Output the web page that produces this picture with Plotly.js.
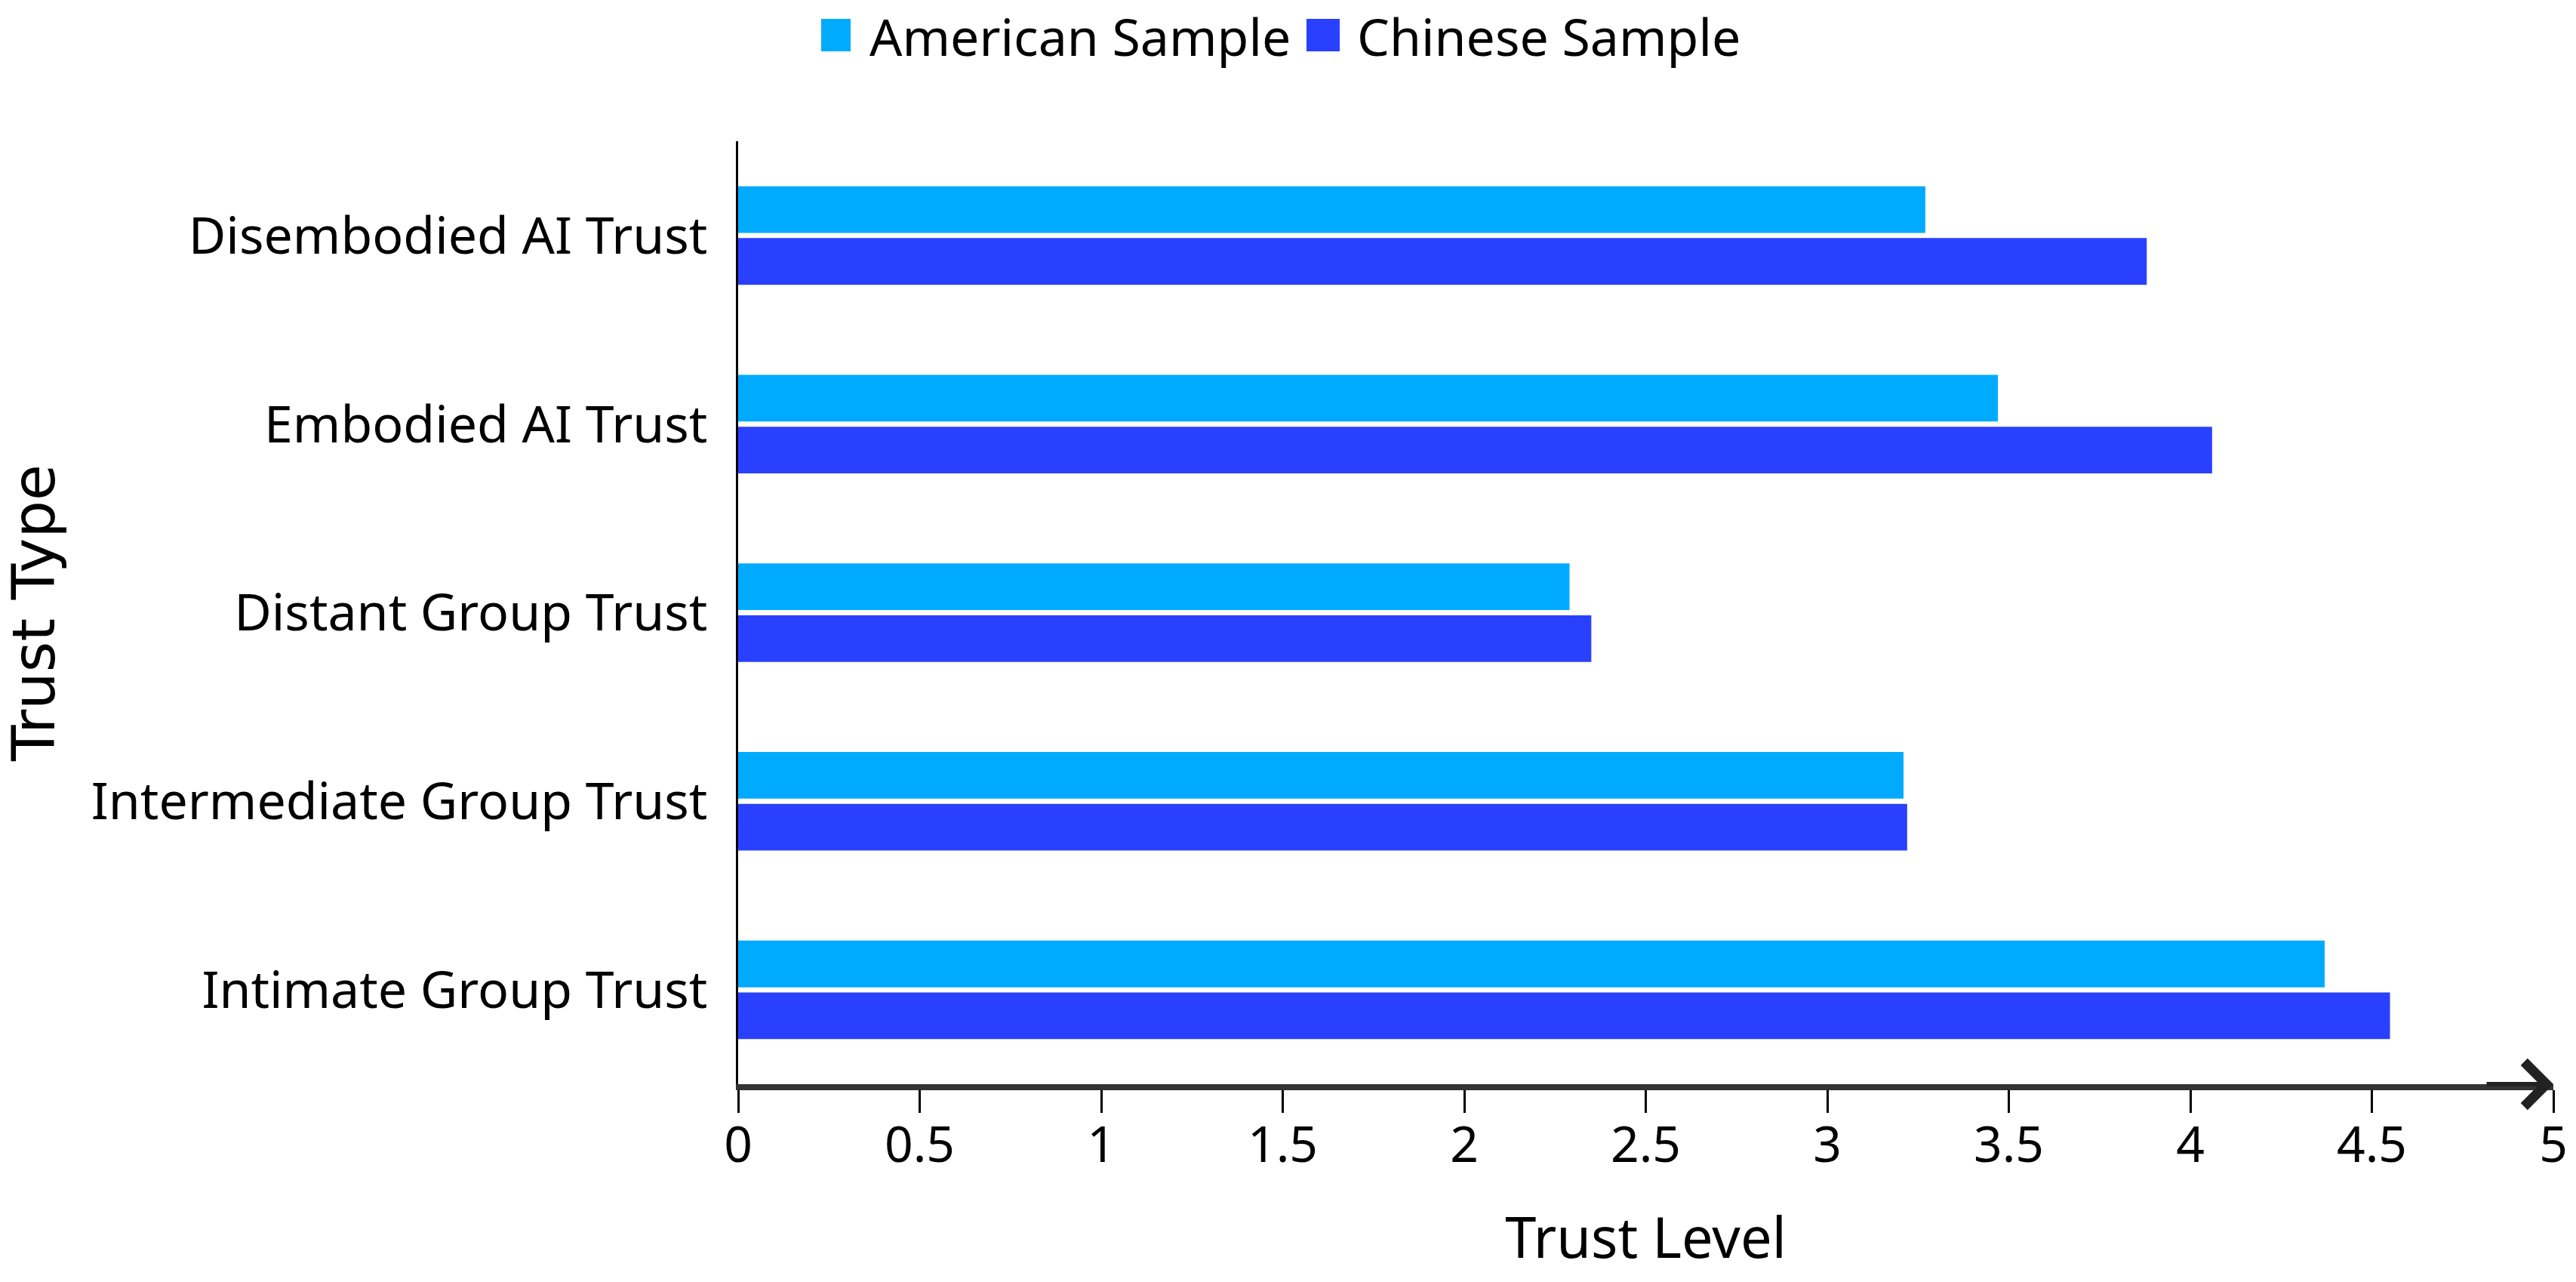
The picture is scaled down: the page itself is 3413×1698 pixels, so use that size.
<!DOCTYPE html>
<html>
<head>
<meta charset="utf-8">
<script src="https://cdn.plot.ly/plotly-3.0.1.min.js"></script>
<style>
  html, body { margin: 0; padding: 0; background: #fff; }
  #chart { width: 3413px; height: 1698px; }
</style>
</head>
<body>
<div id="chart"></div>
<script>
// categories listed bottom to top
var trustTypes = ['Intimate Group Trust', 'Intermediate Group Trust', 'Distant Group Trust', 'Embodied AI Trust', 'Disembodied AI Trust'];
var seriesNames = ['American Sample', 'Chinese Sample'];
var americanSample = [4.37, 3.21, 2.29, 3.47, 3.27];
var chineseSample = [4.55, 3.22, 2.35, 4.06, 3.88];
var xTicks = [0, 0.5, 1, 1.5, 2, 2.5, 3, 3.5, 4, 4.5, 5];

var colors = ['#00aaff', '#2a40ff'];
var labelFont = '"Noto Sans", "Open Sans", sans-serif';

// plot box in pixels, used for the hand-made legend
var W = 3413, H = 1698;
var M = {l: 978, r: 30, t: 187, b: 262};
function px(x) { return (x - M.l) / (W - M.l - M.r); }
function py(y) { return (H - M.b - y) / (H - M.t - M.b); }

function makeBar(name, values, color) {
  return {
    name: name,
    type: 'bar',
    orientation: 'h',
    x: values,
    y: trustTypes,
    showlegend: false,
    marker: {color: color, line: {width: 0}},
    hoverinfo: 'x+name'
  };
}

// chinese first so it sits below the american bar in each group
var data = [
  makeBar(seriesNames[1], chineseSample, colors[1]),
  makeBar(seriesNames[0], americanSample, colors[0])
];

// legend: big square swatches like the original
var legendItems = [
  {sx0: 1088, sx1: 1127, tx: 1150},
  {sx0: 1731, sx1: 1775, tx: 1796}
];
var shapes = legendItems.map(function (it, i) {
  return {
    type: 'rect', xref: 'paper', yref: 'paper',
    x0: px(it.sx0), x1: px(it.sx1), y0: py(68), y1: py(25),
    fillcolor: colors[i], line: {width: 0}
  };
});
var annotations = legendItems.map(function (it, i) {
  return {
    xref: 'paper', yref: 'paper', x: px(it.tx), y: py(47),
    xanchor: 'left', yanchor: 'middle', showarrow: false,
    text: seriesNames[i],
    font: {family: labelFont, size: 68, color: '#000'}
  };
});

// arrow at the end of the x axis
annotations.push({
  x: 5, y: 0, xref: 'x', yref: 'paper',
  ax: -90, ay: 0, axref: 'pixel', ayref: 'pixel',
  showarrow: true, arrowhead: 4, arrowsize: 1.9, arrowwidth: 6, arrowcolor: '#222',
  text: ''
});

var layout = {
  width: W,
  height: H,
  margin: M,
  paper_bgcolor: '#fff',
  plot_bgcolor: '#fff',
  barmode: 'group',
  bargap: 0.45,
  bargroupgap: 0.1,
  font: {family: labelFont, size: 66, color: '#000'},
  showlegend: false,
  xaxis: {
    range: [0, 5],
    tickvals: xTicks,
    ticktext: xTicks.map(String),
    showgrid: false,
    zeroline: false,
    showline: true,
    linecolor: '#333',
    linewidth: 8,
    ticks: 'outside',
    ticklen: 30,
    tickwidth: 3,
    tickcolor: '#000',
    ticklabelstandoff: -14,
    ticklabeloverflow: 'allow',
    tickfont: {family: labelFont, size: 66, color: '#000'},
    title: {text: 'Trust Level', font: {family: labelFont, size: 74, color: '#000'}, standoff: 60},
    automargin: false,
    fixedrange: true
  },
  yaxis: {
    type: 'category',
    categoryorder: 'array',
    categoryarray: trustTypes,
    showgrid: false,
    zeroline: false,
    showline: true,
    linecolor: '#000',
    linewidth: 3,
    ticks: '',
    ticklabelstandoff: 24,
    tickfont: {family: labelFont, size: 68, color: '#000'},
    title: {text: 'Trust Type', font: {family: '"DejaVu Sans", sans-serif', size: 78, color: '#000'}, standoff: 40},
    automargin: false,
    fixedrange: true
  },
  shapes: shapes,
  annotations: annotations
};

Plotly.newPlot('chart', data, layout, {displayModeBar: false, staticPlot: true});
</script>
</body>
</html>
